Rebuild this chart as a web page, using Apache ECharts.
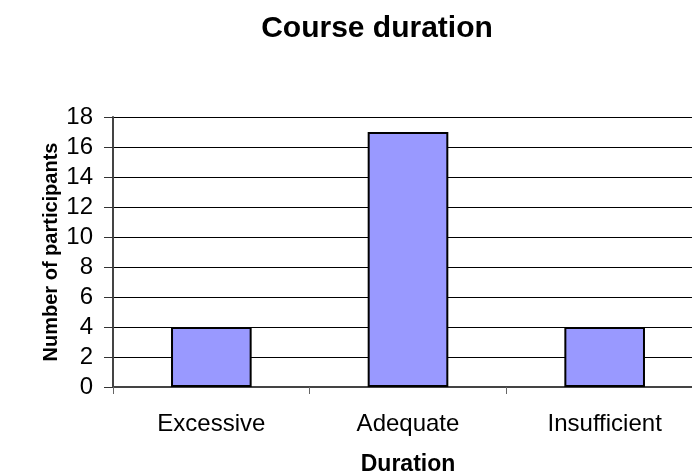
<!DOCTYPE html>
<html>
<head>
<meta charset="utf-8">
<style>
  html, body { margin: 0; padding: 0; background: #fff; overflow: hidden; }
  #main { width: 703px; height: 475px; }
</style>
<script src="https://cdn.jsdelivr.net/npm/echarts@6/dist/echarts.min.js"></script>
</head>
<body>
<div id="main"></div>
<script>
var categories = ['Excessive', 'Adequate', 'Insufficient'];
var participants = [4, 17, 4];

var chartDom = document.getElementById('main');
var myChart = echarts.init(chartDom);
var option;

var font = '"Liberation Sans", Arial, sans-serif';

option = {
    backgroundColor: '#ffffff',
    animation: false,
    title: {
        text: 'Course duration',
        left: 372,
        top: 9,
        textAlign: 'center',
        textStyle: {
            fontFamily: font,
            fontSize: 30,
            fontWeight: 'bold',
            color: '#000'
        }
    },
    grid: {
        left: 113,
        right: 0,
        top: 117,
        bottom: 88,
        outerBoundsMode: 'none'
    },
    xAxis: {
        type: 'category',
        data: categories,
        name: 'Duration',
        nameLocation: 'middle',
        nameGap: 66,
        nameMoveOverlap: false,
        nameTextStyle: {
            fontFamily: font,
            fontSize: 23,
            fontWeight: 'bold',
            color: '#000'
        },
        axisLine: { lineStyle: { color: '#444', width: 2 } },
        axisTick: { show: true, length: 7, lineStyle: { color: '#666' } },
        axisLabel: {
            margin: 25,
            fontFamily: font,
            fontSize: 24,
            color: '#000'
        }
    },
    yAxis: {
        type: 'value',
        min: 0,
        max: 18,
        interval: 2,
        name: 'Number of participants',
        nameLocation: 'middle',
        nameGap: 52,
        nameMoveOverlap: false,
        nameTextStyle: {
            fontFamily: font,
            fontSize: 20,
            fontWeight: 'bold',
            color: '#000'
        },
        axisLine: { show: true, lineStyle: { color: '#444', width: 2 } },
        axisTick: { show: true, length: 9, lineStyle: { color: '#333' } },
        axisLabel: {
            margin: 20,
            fontFamily: font,
            fontSize: 24,
            color: '#000'
        },
        splitLine: { show: true, lineStyle: { color: '#000', width: 1 } }
    },
    series: [
        {
            name: 'Participants',
            type: 'bar',
            data: participants,
            barWidth: '41%',
            itemStyle: {
                color: '#9999FF',
                borderColor: '#000',
                borderWidth: 2
            }
        }
    ]
};

option && myChart.setOption(option);
</script>
</body>
</html>
